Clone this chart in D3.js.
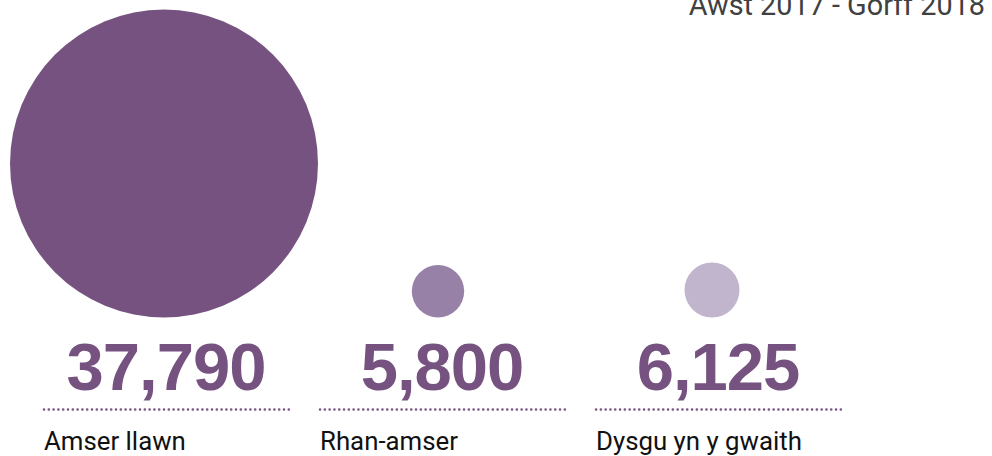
<!DOCTYPE html>
<html>
<head>
<meta charset="utf-8">
<script src="https://cdn.jsdelivr.net/npm/d3@7"></script>
<style>
  html, body { margin: 0; padding: 0; background: #fff; }
  svg { display: block; }
</style>
</head>
<body>
<svg id="chart" width="992" height="456"></svg>
<script>
const title = "Awst 2017 - Gorff 2018";
const categories = ["Amser llawn", "Rhan-amser", "Dysgu yn y gwaith"];
const values = [37790, 5800, 6125];
const colors = ["#765280", "#9881a6", "#c1b4cd"];

const svg = d3.select("#chart");

// column layout
const xBand = d3.scaleBand().domain(categories).range([43, 841]).paddingInner(0.109).paddingOuter(0);
// circle centres
const xCircle = d3.scalePoint().domain(categories).range([164, 712]);
// radius scale
const r = d3.scaleLinear().domain([5800, 37790]).range([26.2, 154]);
const baseY = 317.5;

svg.append("text")
  .attr("x", 985).attr("y", 15)
  .attr("text-anchor", "end")
  .style("font-family", "Roboto, sans-serif")
  .style("font-size", "28.8px")
  .style("fill", "#404040")
  .text(title);

const data = categories.map((c, i) => ({ c, v: values[i], col: colors[i] }));

svg.selectAll("circle.bubble").data(data).join("circle")
  .attr("class", "bubble")
  .attr("cx", d => xCircle(d.c))
  .attr("cy", d => baseY - r(d.v))
  .attr("r", d => r(d.v))
  .attr("fill", d => d.col);

svg.selectAll("text.num").data(data).join("text")
  .attr("class", "num")
  .attr("x", d => xBand(d.c) + xBand.bandwidth() / 2)
  .attr("y", 390)
  .attr("text-anchor", "middle")
  .style("font-family", "'Liberation Sans', Arial, sans-serif")
  .style("font-weight", "bold")
  .style("font-size", "67px")
  .style("letter-spacing", "-1px")
  .style("fill", "#765280")
  .text(d => d3.format(",")(d.v));

svg.selectAll("line.dots").data(data).join("line")
  .attr("class", "dots")
  .attr("x1", d => xBand(d.c) + 1)
  .attr("x2", d => xBand(d.c) + xBand.bandwidth())
  .attr("y1", 409.5).attr("y2", 409.5)
  .attr("stroke", "#765280")
  .attr("stroke-width", 2.6)
  .attr("stroke-linecap", "round")
  .attr("stroke-dasharray", "0,4.8");

svg.selectAll("text.lab").data(data).join("text")
  .attr("class", "lab")
  .attr("x", d => xBand(d.c) + 1)
  .attr("y", 450)
  .style("font-family", "Roboto, sans-serif")
  .style("font-size", "25.8px")
  .style("fill", "#111")
  .text(d => d.c);
</script>
</body>
</html>
